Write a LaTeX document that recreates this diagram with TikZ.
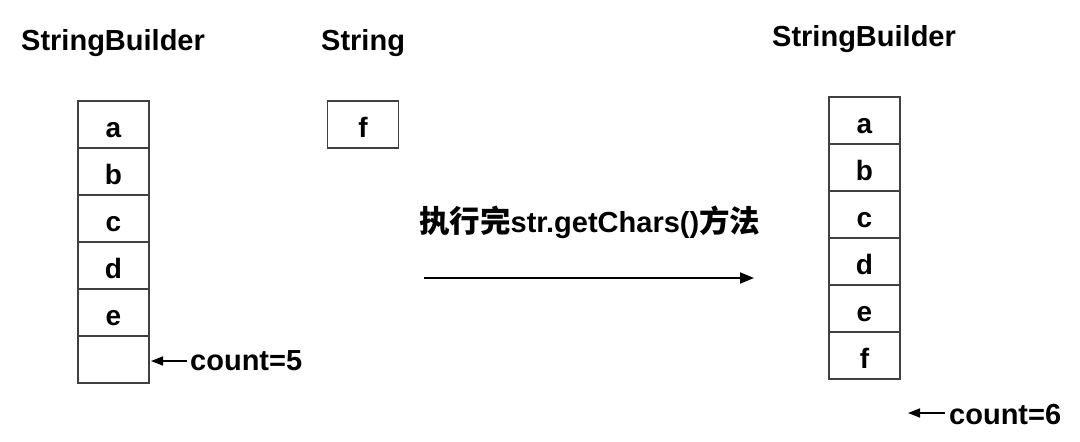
\documentclass[tikz,border=0pt]{standalone}
\usepackage{fontspec}
\setmainfont{Liberation Sans}
\newfontfamily\cjk{Noto Sans CJK SC}
\usetikzlibrary{arrows.meta}
\tikzset{
  lbl/.style={font=\fontsize{29}{30}\selectfont\bfseries, anchor=base west, inner sep=0pt},
  cell/.style={draw=black!75, line width=1.2pt, minimum width=71pt, minimum height=47pt,
    inner sep=0pt, outer sep=0pt, text height=25pt, text depth=0pt, anchor=north,
    font=\fontsize{28}{30}\selectfont\bfseries},
  bigarrow/.style={line width=1.8pt, -{Triangle[length=14pt,width=11pt]}},
  cntarrow/.style={line width=1.5pt, -{Triangle[length=12pt,width=9pt]}}
}
\begin{document}
\begin{tikzpicture}[x=1pt,y=-1pt]
\useasboundingbox[fill=white] (0,0) rectangle (1080,442);
% titles
\node[lbl] (t1) at (21,50) {StringBuilder};
\node[lbl] (t2) at (321,50) {String};
\node[lbl] (t3) at (772,46) {StringBuilder};
% left column
\node[cell] (l1) at (113.5,101) {a};
\node[cell] (l2) at (l1.south) {b};
\node[cell] (l3) at (l2.south) {c};
\node[cell] (l4) at (l3.south) {d};
\node[cell] (l5) at (l4.south) {e};
\node[cell] (l6) at (l5.south) {};
% string box
\node[cell] (s1) at (363,101) {f};
% right column
\node[cell] (r1) at (864.5,97) {a};
\node[cell] (r2) at (r1.south) {b};
\node[cell] (r3) at (r2.south) {c};
\node[cell] (r4) at (r3.south) {d};
\node[cell] (r5) at (r4.south) {e};
\node[cell] (r6) at (r5.south) {f};
% count labels
\node[lbl] (c5) at (190,370) {count=5};
\coordinate (c5s) at (187,361);
\coordinate (c5e) at (151,361);
\draw[cntarrow] (c5s) -- (c5e);
\node[lbl] (c6) at (949,424) {count=6};
\coordinate (c6s) at (945,413);
\coordinate (c6e) at (908,413);
\draw[cntarrow] (c6s) -- (c6e);
% middle text and arrow
\node[lbl] (mt) at (419,232) {{\cjk\bfseries\fontsize{30.5}{32}\selectfont 执行完}str.getChars(){\cjk\bfseries\fontsize{30.5}{32}\selectfont 方法}};
\coordinate (ma) at (424,278);
\coordinate (mb) at (754,278);
\draw[bigarrow] (ma) -- (mb);
\end{tikzpicture}
\end{document}
